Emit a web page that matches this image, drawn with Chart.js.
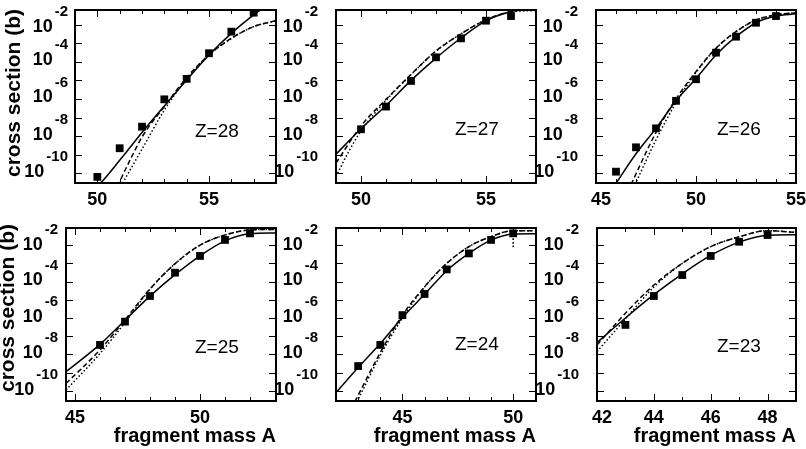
<!DOCTYPE html>
<html>
<head>
<meta charset="utf-8">
<script src="https://cdn.jsdelivr.net/npm/chart.js@4.4.0/dist/chart.umd.min.js"></script>
<style>
    html, body { margin: 0; padding: 0; background: #fff; }
    #wrap { position: relative; width: 806px; height: 449px; }
    #wrap canvas { position: absolute; left: 0; top: 0; }
</style>
</head>
<body>
<div id="wrap">
    <canvas id="c28" width="806" height="449"></canvas>
    <canvas id="c27" width="806" height="449"></canvas>
    <canvas id="c26" width="806" height="449"></canvas>
    <canvas id="c25" width="806" height="449"></canvas>
    <canvas id="c24" width="806" height="449"></canvas>
    <canvas id="c23" width="806" height="449"></canvas>
</div>
<script>
// Valores: log10 de la sección eficaz (b) frente a la masa A

// Z=28
const z28A = [50, 51, 52, 53, 54, 55, 56, 57];
const z28Exp = [-11.19, -9.65, -8.49, -7.02, -5.92, -4.54, -3.38, -2.36];
const z28SolidA = [49.9, 50.2, 51, 52, 53, 54, 55, 56, 57, 58];
const z28Solid = [-11.75, -11.45, -10.3, -8.8, -7.38, -5.98, -4.63, -3.47, -2.48, -1.6];
const z28DashA = [50.9, 51.5, 52, 53, 54, 55, 56, 57, 58];
const z28Dash = [-11.7, -10.2, -9.05, -7.4, -5.85, -4.63, -3.74, -3.11, -2.79];
const z28DotA = [51.05, 52, 53, 54, 55, 56, 57, 58];
const z28Dot = [-11.7, -9.7, -7.6, -5.92, -4.63, -3.74, -3.11, -2.79];

// Z=27
const z27A = [50, 51, 52, 53, 54, 55, 56];
const z27Exp = [-8.63, -7.41, -6.03, -4.76, -3.74, -2.79, -2.54];
const z27SolidA = [49, 50, 51, 52, 53, 54, 55, 56, 56.6, 57];
const z27Solid = [-9.97, -8.6, -7.35, -6.0, -4.8, -3.72, -2.8, -2.3, -2.16, -2.12];
const z27DashA = [49, 50, 51, 52, 53, 54, 55, 56, 57];
const z27Dash = [-10.45, -8.45, -7.02, -5.68, -4.42, -3.5, -2.74, -2.3, -2.18];
const z27DotA = [49, 49.5, 50, 51, 52, 53, 54, 55, 56, 57];
const z27Dot = [-11.17, -9.85, -8.72, -7.08, -5.7, -4.42, -3.5, -2.74, -2.33, -2.24];

// Z=26
const z26A = [46, 47, 48, 49, 50, 51, 52, 53, 54];
const z26Exp = [-10.91, -9.6, -8.58, -7.1, -5.94, -4.51, -3.65, -2.9, -2.54];
const z26SolidA = [45.9, 47, 48, 49, 50, 51, 52, 53, 54, 55];
const z26Solid = [-11.7, -9.95, -8.58, -7.1, -5.9, -4.63, -3.65, -2.9, -2.54, -2.42];
const z26DashA = [46.75, 48, 49, 50, 51, 52, 53, 54, 55];
const z26Dash = [-11.6, -8.8, -7.0, -5.53, -4.27, -3.38, -2.75, -2.48, -2.36];
const z26DotA = [46.95, 48, 49, 50, 51, 52, 53, 54, 55];
const z26Dot = [-11.6, -9.2, -7.2, -5.58, -4.28, -3.38, -2.75, -2.48, -2.36];

// Z=25
const z25A = [46, 47, 48, 49, 50, 51, 52];
const z25Exp = [-8.48, -7.2, -5.79, -4.51, -3.59, -2.71, -2.35];
const z25CurveA = [44.64, 46, 47, 48, 49, 50, 51, 52, 53.04];
const z25Solid = [-9.95, -8.45, -7.12, -5.8, -4.62, -3.58, -2.76, -2.37, -2.33];
const z25Dash = [-10.6, -8.75, -7.1, -5.4, -4.02, -3.0, -2.44, -2.16, -2.13];
const z25Dot = [-10.96, -8.95, -7.25, -5.42, -4.02, -3.0, -2.44, -2.16, -2.13];

// Z=24
const z24A = [43, 44, 45, 46, 47, 48, 49, 50];
const z24Exp = [-9.64, -8.48, -6.84, -5.68, -4.33, -3.45, -2.71, -2.35];
const z24SolidA = [42, 43, 44, 45, 46, 47, 48, 49, 50, 51.03];
const z24Solid = [-11.1, -9.72, -8.4, -6.97, -5.7, -4.4, -3.45, -2.72, -2.38, -2.37];
const z24DashA = [42.85, 44, 45, 46, 47, 48, 49, 50, 51.03];
const z24Dash = [-11.6, -8.9, -6.84, -5.28, -4.0, -3.08, -2.53, -2.2, -2.2];
const z24DotA = [42.95, 44, 45, 46, 47, 48, 49, 50, 51.03];
const z24Dot = [-11.6, -9.05, -7.0, -5.3, -4.0, -3.08, -2.53, -2.2, -2.2];
const z24ErrA = [50, 50];
const z24Err = [-2.44, -3.17];

// Z=23
const z23A = [43, 44, 45, 46, 47, 48];
const z23Exp = [-7.38, -5.79, -4.64, -3.59, -2.81, -2.44];
const z23CurveA = [42, 43, 44, 45, 46, 47, 48, 49];
const z23Solid = [-8.35, -7.0, -5.72, -4.57, -3.56, -2.83, -2.45, -2.42];
const z23Dash = [-8.48, -6.74, -5.19, -4.0, -3.08, -2.54, -2.2, -2.3];
const z23Dot = [-8.85, -7.05, -5.3, -4.0, -3.08, -2.54, -2.2, -2.3];

const yLabelExps = [-2, -4, -6, -8, -10];

const W = 806, H = 449;
const FONT = '"Liberation Sans", Arial, Helvetica, sans-serif';

// Convierte pares (A, log10 sigma) en puntos para la escala logarítmica
function toPoints(xs, exps) {
    return xs.map((a, i) => ({ x: a, y: Math.pow(10, exps[i]) }));
}

function curve(xs, exps, dash) {
    return {
        data: toPoints(xs, exps),
        showLine: true,
        borderColor: '#000',
        borderWidth: 1.5,
        borderDash: dash,
        pointRadius: 0,
        tension: 0.4,
        cubicInterpolationMode: 'monotone'
    };
}

// Marco, marcas, etiquetas de los ejes y textos de cada panel
const framePlugin = {
    id: 'frame',
    afterDatasetsDraw(chart, args, o) {
        const ctx = chart.ctx;
        const a = chart.chartArea;
        const xs = chart.scales.x;
        const ys = chart.scales.y;
        ctx.save();
        ctx.strokeStyle = '#000';
        ctx.fillStyle = '#000';

        ctx.lineWidth = 1;
        ctx.beginPath();
        for (let e = -11; e <= -2; e++) {
            const py = Math.round(ys.getPixelForValue(Math.pow(10, e))) + 0.5;
            if (py < a.top + 1 || py > a.bottom - 1) continue;
            ctx.moveTo(a.left, py); ctx.lineTo(a.left + 7, py);
            ctx.moveTo(a.right, py); ctx.lineTo(a.right - 7, py);
        }
        for (let v = Math.ceil(xs.min); v <= Math.floor(xs.max); v++) {
            const px = Math.round(xs.getPixelForValue(v)) + 0.5;
            if (px < a.left + 1 || px > a.right - 1) continue;
            const len = o.xLabels.includes(v) ? 7 : 4;
            ctx.moveTo(px, a.bottom); ctx.lineTo(px, a.bottom - len);
            ctx.moveTo(px, a.top); ctx.lineTo(px, a.top + len);
        }
        ctx.stroke();

        ctx.lineWidth = 2;
        ctx.strokeRect(a.left, a.top, a.right - a.left, a.bottom - a.top);

        // etiquetas 10^n
        ctx.textAlign = 'right';
        ctx.textBaseline = 'middle';
        yLabelExps.forEach(e => {
            const py = Math.max(ys.getPixelForValue(Math.pow(10, e)), a.top);
            const ex = a.left - o.gap;
            const s = String(e);
            ctx.font = 'bold 15px ' + FONT;
            ctx.fillText(s, ex, py + 2);
            const w = ctx.measureText(s).width;
            ctx.font = 'bold 18px ' + FONT;
            ctx.fillText('10', ex - w - 2, py + 17);
        });

        // etiquetas del eje x
        ctx.textAlign = 'center';
        ctx.font = 'bold 18px ' + FONT;
        o.xLabels.forEach(v => {
            const px = Math.max(xs.getPixelForValue(v), a.left + 5);
            ctx.fillText(String(v), px, a.bottom + 17);
        });

        if (o.xTitle) {
            ctx.textAlign = 'right';
            ctx.font = 'bold 20px ' + FONT;
            ctx.fillText('fragment mass A', a.right, 436);
        }

        if (o.yTitle) {
            ctx.save();
            ctx.translate(o.yTitle[0], o.yTitle[1]);
            ctx.rotate(-Math.PI / 2);
            ctx.textAlign = 'center';
            ctx.font = 'bold 21px ' + FONT;
            ctx.fillText('cross section (b)', 0, 0);
            ctx.restore();
        }

        ctx.textAlign = 'left';
        ctx.font = '19px ' + FONT;
        ctx.fillText(o.z, o.zPos[0], o.zPos[1]);
        ctx.restore();
    }
};

const panels = [
    { id: 'c28', box: [75, 10, 276, 183], x: [49, 58], y: [-11.52, -2.215], xLabels: [50, 55], gap: 7,
      yTitle: [14, 93], xTitle: false, z: 'Z=28', zPos: [195, 132],
      pts: [z28A, z28Exp], solid: [z28SolidA, z28Solid], dash: [z28DashA, z28Dash], dot: [z28DotA, z28Dot] },
    { id: 'c27', box: [336, 10, 536, 183], x: [49, 57], y: [-11.52, -2.215], xLabels: [50, 55], gap: 18,
      yTitle: null, xTitle: false, z: 'Z=27', zPos: [455, 130],
      pts: [z27A, z27Exp], solid: [z27SolidA, z27Solid], dash: [z27DashA, z27Dash], dot: [z27DotA, z27Dot] },
    { id: 'c26', box: [596, 10, 796, 183], x: [45, 55], y: [-11.52, -2.215], xLabels: [45, 50, 55], gap: 18,
      yTitle: null, xTitle: false, z: 'Z=26', zPos: [717, 130],
      pts: [z26A, z26Exp], solid: [z26SolidA, z26Solid], dash: [z26DashA, z26Dash], dot: [z26DotA, z26Dot] },
    { id: 'c25', box: [66, 228, 276, 401], x: [44.64, 53.04], y: [-11.56, -2.055], xLabels: [45, 50], gap: 8,
      yTitle: [8, 308], xTitle: true, z: 'Z=25', zPos: [195, 348],
      pts: [z25A, z25Exp], solid: [z25CurveA, z25Solid], dash: [z25CurveA, z25Dash], dot: [z25CurveA, z25Dot] },
    { id: 'c24', box: [336, 228, 536, 401], x: [42, 51.03], y: [-11.56, -2.055], xLabels: [45, 50], gap: 18,
      yTitle: null, xTitle: true, z: 'Z=24', zPos: [455, 345],
      pts: [z24A, z24Exp], solid: [z24SolidA, z24Solid], dash: [z24DashA, z24Dash], dot: [z24DotA, z24Dot],
      err: [z24ErrA, z24Err] },
    { id: 'c23', box: [597, 228, 796, 401], x: [42, 49], y: [-11.56, -2.055], xLabels: [42, 44, 46, 48], gap: 18,
      yTitle: null, xTitle: true, z: 'Z=23', zPos: [717, 347],
      pts: [z23A, z23Exp], solid: [z23CurveA, z23Solid], dash: [z23CurveA, z23Dash], dot: [z23CurveA, z23Dot] }
];

panels.forEach(p => {
    const datasets = [
        {
            data: toPoints(p.pts[0], p.pts[1]),
            pointStyle: 'rect',
            pointRadius: 5.5,
            backgroundColor: '#000',
            borderColor: '#000',
            borderWidth: 0
        },
        curve(p.solid[0], p.solid[1], []),
        curve(p.dash[0], p.dash[1], [5, 3]),
        curve(p.dot[0], p.dot[1], [1.5, 2.2])
    ];
    if (p.err) datasets.push(curve(p.err[0], p.err[1], [1.5, 2]));

    new Chart(document.getElementById(p.id), {
        type: 'scatter',
        data: { datasets: datasets },
        options: {
            responsive: false,
            animation: false,
            events: [],
            devicePixelRatio: 1,
            layout: {
                padding: { left: p.box[0], top: p.box[1], right: W - p.box[2], bottom: H - p.box[3] }
            },
            scales: {
                x: { type: 'linear', display: false, min: p.x[0], max: p.x[1] },
                y: { type: 'logarithmic', display: false, min: Math.pow(10, p.y[0]), max: Math.pow(10, p.y[1]) }
            },
            plugins: {
                legend: { display: false },
                tooltip: { enabled: false },
                frame: { xLabels: p.xLabels, gap: p.gap, yTitle: p.yTitle, xTitle: p.xTitle, z: p.z, zPos: p.zPos }
            }
        },
        plugins: [framePlugin]
    });
});
</script>
</body>
</html>
